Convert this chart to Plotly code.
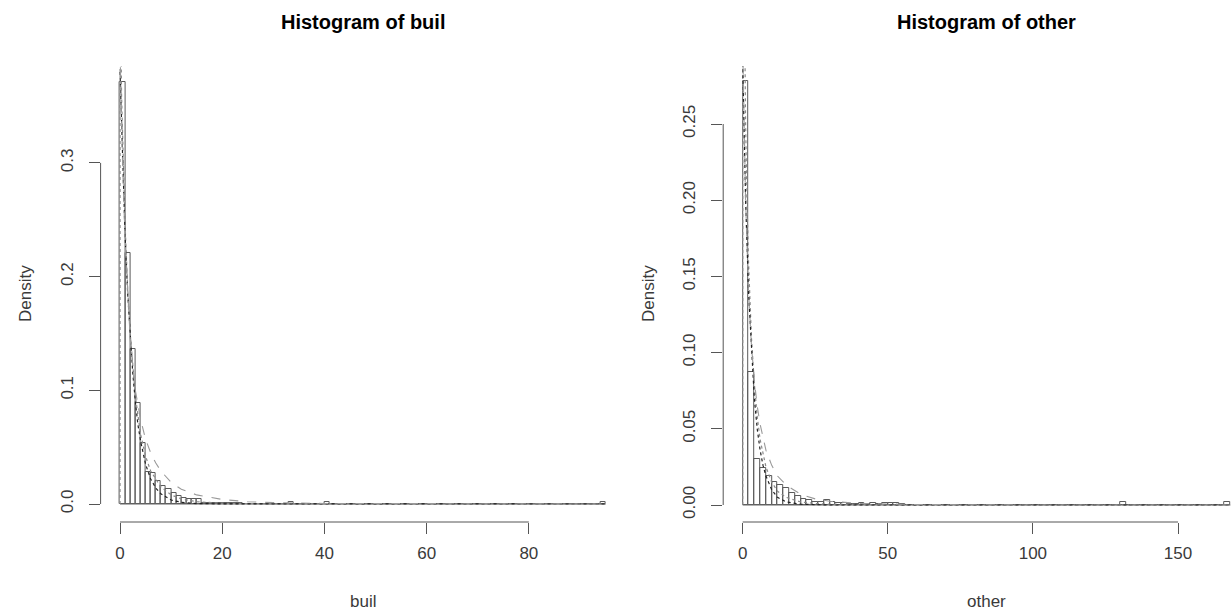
import plotly.graph_objects as go

W, H = 1232, 616

# ---------------- data: left panel (buil) ----------------
buil_bin_width = 1
buil_n_bins = 95
buil_head_density = [0.371, 0.221, 0.136, 0.089, 0.054, 0.028, 0.027, 0.020,
                     0.016, 0.013, 0.010, 0.007, 0.005, 0.004, 0.004, 0.004,
                     0.001, 0.001, 0.0005, 0.0005, 0.0005, 0.0005, 0.001, 0.0005]
buil_tail_bins = [33, 40, 94]
buil_tail_density = [0.002, 0.002, 0.002]

buil_curve1_x = [0.0, 0.02, 0.1, 0.3, 0.6, 1, 1.5, 2, 3, 4, 5, 6, 8, 10, 12, 15, 20, 30, 50, 95]
buil_curve1_y = [0.0, 0.6, 0.45, 0.36, 0.3, 0.245, 0.19, 0.15, 0.095, 0.062, 0.042, 0.029,
                 0.015, 0.008, 0.0045, 0.002, 0.0007, 0.0001, 0, 0]
buil_curve2_x = [0, 0.5, 1, 1.5, 2, 2.5, 3, 3.5, 4, 5, 6, 7, 8, 10, 12, 15, 20, 30, 95]
buil_curve2_y = [0.38, 0.30, 0.235, 0.185, 0.145, 0.115, 0.09, 0.07, 0.056, 0.035, 0.022,
                 0.014, 0.009, 0.0035, 0.0015, 0.0004, 0.0001, 0, 0]
buil_curve3_x = [0, 0.5, 1, 2, 3, 4, 5, 6, 7, 8, 10, 12, 15, 20, 25, 30, 40, 60, 95]
buil_curve3_y = [0.40, 0.30, 0.23, 0.145, 0.1, 0.075, 0.057, 0.045, 0.036, 0.029, 0.019,
                 0.013, 0.008, 0.004, 0.002, 0.0012, 0.0005, 0.0001, 0]

buil_xticks = [0, 20, 40, 60, 80]
buil_yticks = [0.0, 0.1, 0.2, 0.3]
buil_ytick_labels = ["0.0", "0.1", "0.2", "0.3"]

# ---------------- data: right panel (other) ----------------
other_bin_width = 2
other_n_bins = 84
other_head_density = [0.278, 0.087, 0.030, 0.024, 0.019, 0.015, 0.013, 0.011, 0.008,
                      0.006, 0.004, 0.003, 0.002, 0.002, 0.003, 0.002, 0.001, 0.001,
                      0.0005, 0.0005, 0.001, 0.0005, 0.001, 0.0005, 0.001, 0.001, 0.001, 0.0005]
other_tail_bins = [65, 83]
other_tail_density = [0.002, 0.002]

other_curve1_x = [0, 0.05, 0.3, 0.7, 1, 1.5, 2, 3, 4, 5, 6, 8, 10, 12, 15, 20, 25, 30, 40, 60, 168]
other_curve1_y = [0, 0.6, 0.4, 0.3, 0.25, 0.2, 0.16, 0.11, 0.08, 0.058, 0.043, 0.025, 0.015,
                  0.009, 0.005, 0.002, 0.001, 0.0005, 0.0002, 0, 0]
other_curve2_x = [0, 1, 2, 3, 4, 5, 6, 7, 8, 10, 12, 15, 20, 30, 168]
other_curve2_y = [0.29, 0.2, 0.14, 0.1, 0.07, 0.05, 0.036, 0.026, 0.019, 0.01, 0.005,
                  0.002, 0.0005, 0, 0]
other_curve3_x = [0, 1, 2, 3, 4, 5, 6, 8, 10, 12, 15, 20, 25, 30, 40, 60, 100, 168]
other_curve3_y = [0.30, 0.2, 0.14, 0.105, 0.082, 0.065, 0.053, 0.036, 0.026, 0.019, 0.013,
                  0.007, 0.004, 0.0025, 0.001, 0.0003, 0, 0]

other_xticks = [0, 50, 100, 150]
other_yticks = [0.00, 0.05, 0.10, 0.15, 0.20, 0.25]
other_ytick_labels = ["0.00", "0.05", "0.10", "0.15", "0.20", "0.25"]

titles = ["Histogram of buil", "Histogram of other"]
xlabels = ["buil", "other"]
ylabel = "Density"

# ---------------- build ----------------
def full_density(n, head, tail_bins, tail_vals):
    d = [0.0] * n
    for i, v in enumerate(head):
        d[i] = v
    for b, v in zip(tail_bins, tail_vals):
        d[b] = v
    return d

buil_density = full_density(buil_n_bins, buil_head_density, buil_tail_bins, buil_tail_density)
other_density = full_density(other_n_bins, other_head_density, other_tail_bins, other_tail_density)

FONT = "Liberation Sans, Arial, Helvetica, sans-serif"
AX = "#555555"
TXT = "#3a3a3a"

# pixel layout of the two plot regions
top_px, bot_px = 66, 522
dom_y = [1 - bot_px / H, 1 - top_px / H]
left_dom = [100.6 / W, 624.9 / W]
right_dom = [723.2 / W, 1.0]

fig = go.Figure()

panels = [
    dict(dens=buil_density, bw=buil_bin_width, n=buil_n_bins,
         curves=[(buil_curve1_x, buil_curve1_y), (buil_curve2_x, buil_curve2_y), (buil_curve3_x, buil_curve3_y)],
         xa="x", ya="y"),
    dict(dens=other_density, bw=other_bin_width, n=other_n_bins,
         curves=[(other_curve1_x, other_curve1_y), (other_curve2_x, other_curve2_y), (other_curve3_x, other_curve3_y)],
         xa="x2", ya="y2"),
]

curve_styles = [
    dict(color="#8a8a8a", width=1.2, dash="dot"),
    dict(color="#222222", width=1.2, dash="dot"),
    dict(color="#9a9a9a", width=1.1, dash="dash"),
]

for p in panels:
    centers = [(i + 0.5) * p["bw"] for i in range(p["n"])]
    fig.add_trace(go.Bar(x=centers, y=p["dens"], width=[p["bw"]] * p["n"],
                         marker=dict(color="rgba(255,255,255,0)", line=dict(color="#5a5a5a", width=1)),
                         xaxis=p["xa"], yaxis=p["ya"], showlegend=False, hoverinfo="skip"))
    # baseline of zero-height bins
    fig.add_trace(go.Scatter(x=[0, p["n"] * p["bw"]], y=[0, 0], mode="lines",
                             line=dict(color="#666666", width=1),
                             xaxis=p["xa"], yaxis=p["ya"], showlegend=False, hoverinfo="skip"))
    for (cx, cy), st in zip(p["curves"], curve_styles):
        fig.add_trace(go.Scatter(x=cx, y=cy, mode="lines", line=st,
                                 xaxis=p["xa"], yaxis=p["ya"], showlegend=False, hoverinfo="skip"))

common_x = dict(showgrid=False, zeroline=False, showline=False, ticks="outside", ticklen=11,
                tickcolor=AX, tickwidth=1, ticklabelstandoff=5,
                tickfont=dict(family=FONT, size=17, color=TXT))
common_y = dict(showgrid=False, zeroline=False, showline=False, ticks="outside", ticklen=11,
                tickcolor=AX, tickwidth=1, tickangle=-90, ticklabelstandoff=9,
                tickfont=dict(family=FONT, size=17, color=TXT))

fig.update_layout(
    width=W, height=H, margin=dict(l=0, r=0, t=0, b=0),
    paper_bgcolor="white", plot_bgcolor="white", bargap=0,
    xaxis=dict(domain=left_dom, range=[-3.8, 98.8], tickvals=buil_xticks, anchor="y", **common_x),
    yaxis=dict(domain=dom_y, range=[-(bot_px - 504) / 1137, (504 - top_px) / 1137],
               tickvals=buil_yticks, ticktext=buil_ytick_labels, anchor="x", **common_y),
    xaxis2=dict(domain=right_dom, range=[-6.72, (1232 - 742.7) / 2.902], tickvals=other_xticks,
                anchor="y2", **common_x),
    yaxis2=dict(domain=dom_y, range=[-(bot_px - 505) / 1524, (505 - top_px) / 1524],
                tickvals=other_yticks, ticktext=other_ytick_labels, anchor="x2", **common_y),
)

# R-style axis lines spanning first..last tick
shapes = []
for xa, ya, xt, yt, dom in [("x", "y", buil_xticks, buil_yticks, left_dom),
                            ("x2", "y2", other_xticks, other_yticks, right_dom)]:
    shapes.append(dict(type="line", xref=xa, yref="paper", x0=xt[0], x1=xt[-1],
                       y0=dom_y[0], y1=dom_y[0], line=dict(color=AX, width=1)))
    shapes.append(dict(type="line", xref="paper", yref=ya, x0=dom[0], x1=dom[0],
                       y0=yt[0], y1=yt[-1], line=dict(color=AX, width=1)))
fig.update_layout(shapes=shapes)

annotations = []
centers_px = [(100.6 + 624.9) / 2, (723.2 + 1249.7) / 2]
ylab_px = [25, 648]
for t, xl, cx, yx in zip(titles, xlabels, centers_px, ylab_px):
    annotations.append(dict(text="<b>" + t + "</b>", x=cx / W, y=1 - 22 / H, xref="paper", yref="paper",
                            showarrow=False, xanchor="center", yanchor="middle",
                            font=dict(family=FONT, size=20, color="black")))
    annotations.append(dict(text=xl, x=cx / W, y=1 - 601 / H, xref="paper", yref="paper",
                            showarrow=False, xanchor="center", yanchor="middle",
                            font=dict(family=FONT, size=17, color=TXT)))
    annotations.append(dict(text=ylabel, x=yx / W, y=1 - 294 / H, xref="paper", yref="paper",
                            showarrow=False, xanchor="center", yanchor="middle", textangle=-90,
                            font=dict(family=FONT, size=17, color=TXT)))
fig.update_layout(annotations=annotations)

fig.write_html("out.html")
